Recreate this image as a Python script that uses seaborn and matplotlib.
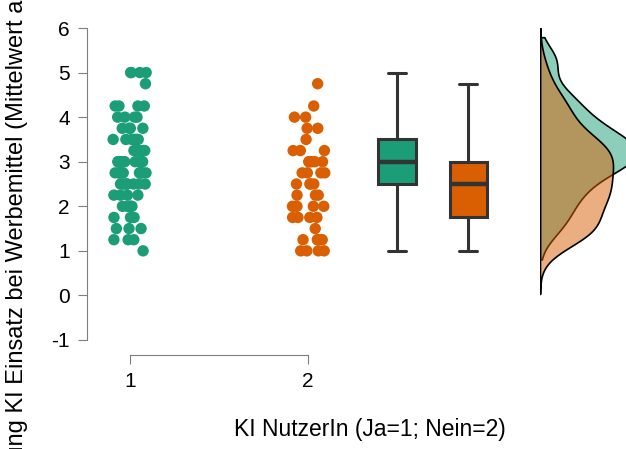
import numpy as np
import pandas as pd
import matplotlib
matplotlib.use("Agg")
import matplotlib.pyplot as plt
import seaborn as sns

# ---- data ----
levels = [1.0, 1.25, 1.5, 1.75, 2.0, 2.25, 2.5, 2.75, 3.0, 3.25, 3.5, 3.75, 4.0, 4.25, 4.5, 4.75, 5.0]
counts_ja = [1, 3, 3, 3, 5, 4, 8, 10, 12, 7, 7, 4, 4, 4, 0, 1, 4]     # group 1 (Ja)
counts_nein = [4, 5, 1, 4, 5, 3, 4, 4, 5, 3, 1, 2, 2, 1, 0, 1, 0]    # group 2 (Nein)
groups = [1, 2]
tick_labels = ["1", "2"]
xlabel = "KI NutzerIn (Ja=1; Nein=2)"
ylabel = "Bewertung KI Einsatz bei Werbemittel (Mittelwert aller Items)"

green = "#1b9e77"
orange = "#d95f02"
palette = {1: green, 2: orange}

vals_ja = np.repeat(levels, counts_ja)
vals_nein = np.repeat(levels, counts_nein)
df = pd.DataFrame({
    "group": np.r_[np.full(len(vals_ja), 1), np.full(len(vals_nein), 2)],
    "value": np.r_[vals_ja, vals_nein],
})
box_pos = {1: 2.5, 2: 2.9}
df["pos"] = df["group"].map(box_pos)

sns.set_style("ticks")
plt.rcParams["font.family"] = ["Liberation Sans", "DejaVu Sans"]
plt.rcParams["axes.unicode_minus"] = False
plt.rcParams["text.color"] = "black"
plt.rcParams["axes.labelcolor"] = "black"
plt.rcParams["xtick.labelcolor"] = "black"
plt.rcParams["ytick.labelcolor"] = "black"

W, H = 626, 449
fig = plt.figure(figsize=(W / 100, H / 100), dpi=100)
ax_rect = [87 / W, (H - 355) / H, (W - 87) / W, (355 - 28) / H]
ax = fig.add_axes(ax_rect)

sns.stripplot(data=df, x="group", y="value", hue="group", palette=palette,
              native_scale=True, jitter=0.095, size=8.2, linewidth=0,
              legend=False, ax=ax, zorder=3)

sns.boxplot(data=df, x="pos", y="value", hue="group", palette=palette,
            native_scale=True, width=0.52, dodge=False, linewidth=2.2,
            linecolor="#333333", fliersize=0, saturation=1, legend=False,
            medianprops={"linewidth": 3.2}, ax=ax)

ylo, yhi = -1 - 15 / 44.571, 6
shift = 0.3

# density (half-violin) on a separate axes
ax_d = fig.add_axes([540 / W, ax_rect[1], 200 / W, ax_rect[3]])
sns.kdeplot(y=vals_ja, ax=ax_d, fill=True, color=green, bw_adjust=0.85, cut=1.5,
            linewidth=1.2)
sns.kdeplot(y=vals_nein, ax=ax_d, fill=True, color=orange, bw_adjust=0.85, cut=3.3,
            linewidth=1.2)
for coll, c in zip(ax_d.collections, [green, orange]):
    coll.set_alpha(None)
    coll.set_facecolor(matplotlib.colors.to_rgba(c, 0.5))
    coll.set_edgecolor("black")
peak_orange = ax_d.collections[1].get_paths()[0].vertices[:, 0].max()
ax_d.set_xlim(0, peak_orange * 200 / 73)
ax_d.set_ylim(ylo - shift, yhi - shift)
ax_d.axis("off")

ax.set_ylim(ylo, yhi)
ax.set_xlim(1 - 43 / 178, 1 + 496 / 178)
ax.set_yticks(range(-1, 7))
ax.set_xticks(groups)
ax.set_xticklabels(tick_labels)
ax.tick_params(axis="both", labelsize=15, length=6.5, width=0.8, color="#7f7f7f", pad=6)
for s in ["left", "bottom"]:
    ax.spines[s].set_color("#7f7f7f")
    ax.spines[s].set_linewidth(0.8)
sns.despine(ax=ax, trim=True)

ax.set_xlabel(xlabel, fontsize=16.5)
ax.xaxis.set_label_coords((370 - 87) / (W - 87), (355 - 418) / (355 - 28))
ax.set_ylabel(ylabel, fontsize=17)
ax.yaxis.set_label_coords((28 - 87) / (W - 87), (355 - 214) / (355 - 28))

fig.savefig("out.png", dpi=100)
